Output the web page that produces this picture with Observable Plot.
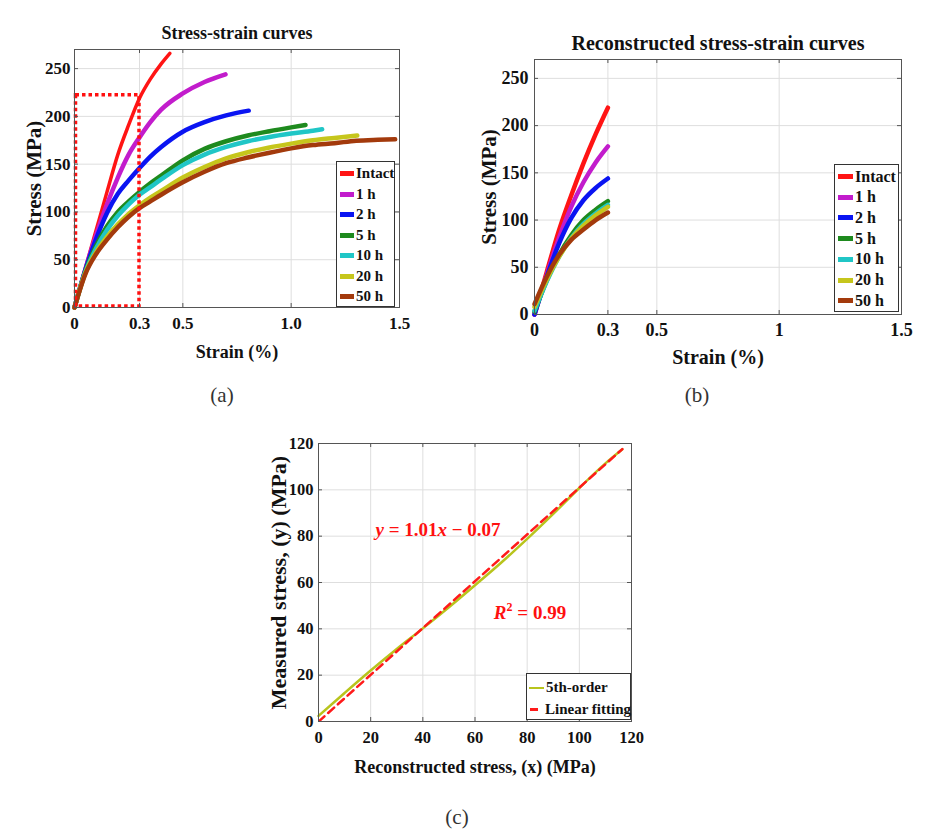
<!DOCTYPE html>
<html>
<head>
<meta charset="utf-8">
<script src="https://cdn.jsdelivr.net/npm/d3@7"></script>
<script src="https://cdn.jsdelivr.net/npm/@observablehq/plot@0.6"></script>
<style>
  html, body { margin: 0; padding: 0; background: #fff; }
  #root { position: relative; width: 941px; height: 838px; background: #fff; overflow: hidden; font-family: "Liberation Serif", serif; color: #111; }
  .panel { position: absolute; }
  .legend { position: absolute; background: #fff; border: 1px solid #333; box-sizing: border-box; font-family: "Liberation Serif", serif; font-weight: bold; color: #111; }
  .legend .row { position: absolute; left: 0; display: flex; align-items: center; white-space: nowrap; }
  .legend .sw { display: inline-block; }
  .legend .lab { line-height: 1; }
  .note { position: absolute; transform: translate(-50%, -50%); white-space: nowrap; font-family: "Liberation Serif", serif; font-weight: bold; color: #ff1010; }
  .plabel { position: absolute; transform: translate(-50%, -50%); font-family: "Liberation Serif", serif; font-size: 21px; color: #333; }
</style>
</head>
<body>
<div id="root"></div>
<script>
// ---------- shared series ----------
const seriesNames = ["Intact", "1 h", "2 h", "5 h", "10 h", "20 h", "50 h"];
const seriesColors = ["#ff1414", "#c21ccc", "#0a14f2", "#1e8a1e", "#20c6c6", "#c6c61c", "#a33a0c"];

// ---------- panel (a): measured stress-strain curves ----------
const strainGridA = [0, 0.05, 0.1, 0.15, 0.2, 0.25, 0.3, 0.35, 0.4, 0.5, 0.6, 0.7, 0.8, 0.9, 1.0, 1.1, 1.2, 1.3, 1.4];
const stressA_intact = [0, 41, 81, 121, 160, 191, 219, 239, 255];
const stressA_1h  = [0, 40, 76, 108, 136, 160, 178, 194, 207, 224, 236];
const stressA_2h  = [0, 39, 72, 99, 119, 133, 146, 158, 168, 184, 194, 201];
const stressA_5h  = [0, 38, 65, 85, 100, 111, 121, 130, 138, 154, 166, 174, 180, 184.5, 188.5];
const stressA_10h = [0, 37, 62, 81, 96, 108, 118, 126, 134, 149, 160, 168, 174, 178.5, 182, 185];
const stressA_20h = [0, 36, 58, 74, 87, 98, 107, 115, 122, 136, 147, 156, 162.5, 167.5, 171.5, 175, 177.5];
const stressA_50h = [0, 35, 56, 71, 84, 95, 104, 111, 118, 131, 142, 151, 157, 162, 166.5, 170, 172, 174.5, 175.5];
const endStrainA = [0.44, 0.697, 0.804, 1.066, 1.143, 1.305, 1.48];
const endStressA = [266, 244, 206, 191, 186.5, 180, 176];
const zoomBoxStrain = [0, 0.3];
const zoomBoxStress = [0, 222];
const xTicksA = [0, 0.3, 0.5, 1.0, 1.5];
const xTickLabelsA = ["0", "0.3", "0.5", "1.0", "1.5"];
const yTicksAB = [0, 50, 100, 150, 200, 250];
const yTickLabelsAB = ["0", "50", "100", "150", "200", "250"];

// ---------- panel (b): reconstructed curves ----------
const strainGridB = [0, 0.05, 0.1, 0.15, 0.2, 0.25, 0.3];
const stressB_intact = [0, 45, 89, 126, 160, 191, 219];
const stressB_1h  = [0, 42, 81, 114, 140, 161, 178];
const stressB_2h  = [0, 40, 75, 102, 121, 134, 144];
const stressB_5h  = [3, 36, 63, 84, 100, 111, 120];
const stressB_10h = [4, 35, 61, 81, 96, 107, 116];
const stressB_20h = [8, 37, 61, 80, 94, 105, 114];
const stressB_50h = [11, 40, 63, 79, 90, 100, 108];
const xTicksB = [0, 0.3, 0.5, 1, 1.5];
const xTickLabelsB = ["0", "0.3", "0.5", "1", "1.5"];

// ---------- panel (c): measured vs reconstructed ----------
const reconStress = [0, 10, 20, 30, 40, 50, 60, 70, 80, 90, 100, 110, 116.5];
const measuredFifth = [2.4, 12.3, 22, 31.3, 40.2, 49.3, 58.8, 68.5, 78.8, 89.6, 100.8, 111.4, 117.5];
const fitX = [0, 116.5];
const fitY = [-0.07, 117.6];
const ticksC = [0, 20, 40, 60, 80, 100, 120];
const tickLabelsC = ["0", "20", "40", "60", "80", "100", "120"];

// ---------- build tables ----------
const stressA = [stressA_intact, stressA_1h, stressA_2h, stressA_5h, stressA_10h, stressA_20h, stressA_50h];
const rowsA = [];
stressA.forEach((vals, i) => {
  vals.forEach((v, j) => rowsA.push({s: seriesNames[i], x: strainGridA[j], y: v}));
  rowsA.push({s: seriesNames[i], x: endStrainA[i], y: endStressA[i]});
});
const stressB = [stressB_intact, stressB_1h, stressB_2h, stressB_5h, stressB_10h, stressB_20h, stressB_50h];
const rowsB = [];
stressB.forEach((vals, i) => vals.forEach((v, j) => rowsB.push({s: seriesNames[i], x: strainGridB[j], y: v})));
const rowsC = reconStress.map((x, i) => ({x, y: measuredFifth[i]}));
const rowsFit = fitX.map((x, i) => ({x, y: fitY[i]}));

const FONT = "Liberation Serif";
const root = document.getElementById("root");
function place(el, left, top) {
  const d = document.createElement("div");
  d.className = "panel";
  d.style.left = left + "px";
  d.style.top = top + "px";
  d.appendChild(el);
  root.appendChild(d);
}
const lbl = (ticks, labels) => d => labels[ticks.indexOf(d)];
const gridStyle = {stroke: "#dedede", strokeOpacity: 1, strokeWidth: 1};
const T = {text: d => d, fontWeight: "bold", textAnchor: "middle", lineAnchor: "middle"};
// short inward frame ticks (MATLAB style)
function innerTicks(xt, yt, fw, fh) {
  const s = {stroke: "#555", strokeWidth: 1};
  return [
    Plot.tickY(yt, {y: d => d, insetRight: fw - 4, ...s}),
    Plot.tickY(yt, {y: d => d, insetLeft: fw - 4, ...s}),
    Plot.tickX(xt, {x: d => d, insetTop: fh - 4, ...s}),
    Plot.tickX(xt, {x: d => d, insetBottom: fh - 4, ...s})
  ];
}

// ---------- panel (a) ----------
const plotA = Plot.plot({
  width: 470, height: 380,
  marginLeft: 74, marginRight: 71, marginTop: 49, marginBottom: 73,
  x: {domain: [0, 1.5]},
  y: {domain: [0, 270]},
  color: {domain: seriesNames, range: seriesColors},
  style: {fontFamily: FONT, background: "white", color: "#111"},
  marks: [
    Plot.gridX(xTicksA.filter(t => t > 0 && t < 1.5), gridStyle),
    Plot.gridY(yTicksAB.filter(t => t > 0), gridStyle),
    Plot.line(rowsA.filter(r => r.s === seriesNames[0]), {x: "x", y: "y", stroke: "s", strokeWidth: 3.5, curve: "monotone-x"}),
    Plot.line(rowsA.filter(r => r.s !== seriesNames[0]), {x: "x", y: "y", z: "s", stroke: "s", strokeWidth: 4.5, curve: "monotone-x"}),
    Plot.rect([{x1: zoomBoxStrain[0], x2: zoomBoxStrain[1], y1: zoomBoxStress[0], y2: zoomBoxStress[1]}],
      {x1: "x1", x2: "x2", y1: "y1", y2: "y2", fill: "none", stroke: "#ff1010", strokeWidth: 3.5, strokeDasharray: "3.5,3", insetLeft: 1.5, insetBottom: 1}),
    ...innerTicks(xTicksA, yTicksAB, 325, 258),
    Plot.frame({stroke: "#555", strokeWidth: 1}),
    Plot.axisX({ticks: xTicksA, tickFormat: lbl(xTicksA, xTickLabelsA), tickSize: 0, tickPadding: 9, fontSize: 17, fontWeight: "bold", label: null}),
    Plot.axisY({ticks: yTicksAB, tickFormat: lbl(yTicksAB, yTickLabelsAB), tickSize: 0, tickPadding: 4, fontSize: 17, fontWeight: "bold", label: null}),
    Plot.text(["Strain (%)"], {...T, frameAnchor: "bottom", dy: 45, fontSize: 18}),
    Plot.text(["Stress (MPa)"], {...T, frameAnchor: "left", dx: -40, rotate: -90, fontSize: 21}),
    Plot.text(["Stress-strain curves"], {...T, frameAnchor: "top", dy: -16, fontSize: 18})
  ]
});
place(plotA, 0, 0);

// ---------- panel (b) ----------
const plotB = Plot.plot({
  width: 471, height: 380,
  marginLeft: 64, marginRight: 40, marginTop: 59, marginBottom: 66,
  x: {domain: [0, 1.5]},
  y: {domain: [0, 270]},
  color: {domain: seriesNames, range: seriesColors},
  style: {fontFamily: FONT, background: "white", color: "#111"},
  marks: [
    Plot.gridX(xTicksB.filter(t => t > 0 && t < 1.5), gridStyle),
    Plot.gridY(yTicksAB.filter(t => t > 0), gridStyle),
    Plot.line(rowsB, {x: "x", y: "y", z: "s", stroke: "s", strokeWidth: 4.5, curve: "monotone-x"}),
    ...innerTicks(xTicksB, yTicksAB, 367, 255),
    Plot.frame({stroke: "#555", strokeWidth: 1}),
    Plot.axisX({ticks: xTicksB, tickFormat: lbl(xTicksB, xTickLabelsB), tickSize: 0, tickPadding: 9, fontSize: 18, fontWeight: "bold", label: null}),
    Plot.axisY({ticks: yTicksAB, tickFormat: lbl(yTicksAB, yTickLabelsAB), tickSize: 0, tickPadding: 6, fontSize: 18, fontWeight: "bold", label: null}),
    Plot.text(["Strain (%)"], {...T, frameAnchor: "bottom", dy: 43, fontSize: 20}),
    Plot.text(["Stress (MPa)"], {...T, frameAnchor: "left", dx: -45, rotate: -90, fontSize: 21}),
    Plot.text(["Reconstructed stress-strain curves"], {...T, frameAnchor: "top", dy: -16, fontSize: 20})
  ]
});
place(plotB, 470, 0);

// ---------- panel (c) ----------
const plotC = Plot.plot({
  width: 420, height: 390,
  marginLeft: 68, marginRight: 39, marginTop: 23, marginBottom: 89,
  x: {domain: [0, 120]},
  y: {domain: [0, 120]},
  style: {fontFamily: FONT, background: "white", color: "#111"},
  marks: [
    Plot.gridX(ticksC.filter(t => t > 0 && t < 120), gridStyle),
    Plot.gridY(ticksC.filter(t => t > 0 && t < 120), gridStyle),
    Plot.line(rowsC, {x: "x", y: "y", stroke: "#b8c41c", strokeWidth: 2.5, curve: "monotone-x"}),
    Plot.line(rowsFit, {x: "x", y: "y", stroke: "#ff1a1a", strokeWidth: 2.5, strokeDasharray: "8,5", clip: true}),
    ...innerTicks(ticksC, ticksC, 313, 278),
    Plot.frame({stroke: "#555", strokeWidth: 1}),
    Plot.axisX({ticks: ticksC, tickFormat: lbl(ticksC, tickLabelsC), tickSize: 0, tickPadding: 10, fontSize: 16.5, fontWeight: "bold", label: null}),
    Plot.axisY({ticks: ticksC, tickFormat: lbl(ticksC, tickLabelsC), tickSize: 0, tickPadding: 5, fontSize: 16.5, fontWeight: "bold", label: null}),
    Plot.text(["Reconstructed stress, (x) (MPa)"], {...T, frameAnchor: "bottom", dy: 46, fontSize: 18}),
    Plot.text(["Measured stress, (y) (MPa)"], {...T, frameAnchor: "left", dx: -40, rotate: -90, fontSize: 22})
  ]
});
place(plotC, 250, 420);

// ---------- legends (HTML) ----------
function legend(left, top, w, h, items, rowTop, rowStep, fontSize, swatch) {
  const box = document.createElement("div");
  box.className = "legend";
  Object.assign(box.style, {left: left + "px", top: top + "px", width: w + "px", height: h + "px", fontSize: fontSize + "px"});
  items.forEach((it, i) => {
    const row = document.createElement("div");
    row.className = "row";
    row.style.top = (rowTop + i * rowStep - 9) + "px";
    row.style.height = "18px";
    const sw = document.createElement("span");
    sw.className = "sw";
    Object.assign(sw.style, swatch(it, i));
    const lab = document.createElement("span");
    lab.className = "lab";
    lab.textContent = it.name;
    lab.style.marginLeft = "2px";
    row.appendChild(sw);
    row.appendChild(lab);
    box.appendChild(row);
  });
  root.appendChild(box);
}
const seriesItems = seriesNames.map((n, i) => ({name: n, color: seriesColors[i]}));
legend(336, 161, 59, 146, seriesItems, 11.5, 20.5, 15,
  it => ({marginLeft: "3px", width: "14px", height: "5px", background: it.color}));
legend(834, 164, 65, 148, seriesItems, 11.5, 20.7, 16,
  it => ({marginLeft: "3px", width: "15px", height: "5px", background: it.color}));
legend(526, 673, 105, 47, [{name: "5th-order", color: "#b8c41c"}, {name: "Linear fitting", color: "#ff1a1a"}], 13.5, 21.6, 15,
  (it, i) => i === 0
    ? {marginLeft: "2px", width: "15px", height: "2px", background: it.color}
    : {marginLeft: "3px", marginRight: "5px", width: "8px", height: "3px", background: it.color});

// ---------- annotations ----------
function note(html, x, y, size) {
  const d = document.createElement("div");
  d.className = "note";
  d.innerHTML = html;
  d.style.left = x + "px";
  d.style.top = y + "px";
  d.style.fontSize = size + "px";
  root.appendChild(d);
}
note("<i>y</i> = 1.01<i>x</i> − 0.07", 438, 530, 19);
note("<i>R</i><sup style='font-size:12px'>2</sup> = 0.99", 530, 612, 19);

function plabel(t, x, y) {
  const d = document.createElement("div");
  d.className = "plabel";
  d.textContent = t;
  d.style.left = x + "px";
  d.style.top = y + "px";
  root.appendChild(d);
}
plabel("(a)", 222, 395);
plabel("(b)", 697, 395);
plabel("(c)", 457, 817);
</script>
</body>
</html>
